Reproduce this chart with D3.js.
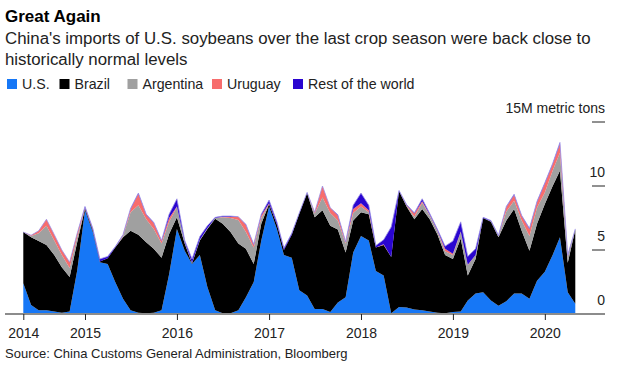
<!DOCTYPE html>
<html>
<head>
<meta charset="utf-8">
<script src="https://cdn.jsdelivr.net/npm/d3@7"></script>
<style>
  body { margin: 0; background: #fff; }
  svg { font-family: "Liberation Sans", Arial, sans-serif; }
</style>
</head>
<body>
<div id="chart-area"></div>
<script>
// monthly imports, million metric tons, May 2014 .. May 2020
var start = new Date(2014, 4, 1);
var us = [2.4,0.7,0.3,0.3,0.2,0.1,0.2,3.4,8.1,6.4,4.05,3.9,2.5,1.2,0.3,0.1,0.05,0.1,0.3,3.1,
  6.65,4.95,3.9,4.6,2.1,0.3,0.05,0.05,0.3,1.3,2.5,5.75,8.4,6.65,4.6,4.4,1.85,1.45,0.4,0.4,
  0.15,0.9,1.3,4.8,6.1,5.75,3.35,3.0,0.05,0.55,0.5,0.35,0.3,0.2,0.1,0.05,0.15,0.2,1.05,1.6,
  1.7,1.05,0.65,1.0,1.6,1.6,1.2,2.6,3.3,4.6,6.0,1.7,0.8];
var brazil = [4.0,5.3,5.4,5.1,4.4,3.55,2.7,2.2,0.15,0.15,0.05,0.45,2.7,4.8,6.2,6.1,5.55,5.0,4.1,3.15,
  0.9,0.55,0.05,1.15,4.55,7.15,7.0,6.35,5.2,3.8,1.4,1.3,0.2,0.35,0.4,1.8,6.0,8.0,7.15,7.7,
  6.75,5.7,3.5,2.5,1.85,2.05,1.85,2.4,4.4,9.05,7.9,7.05,7.9,7.2,6.1,4.55,4.15,5.7,1.95,2.7,
  5.8,6.15,5.35,6.3,6.6,4.9,3.75,4.45,5.3,5.4,5.2,2.3,5.8];
var argentina = [0,0.1,0.6,1.5,1.15,0.95,0.7,0.4,0,0,0,0,0,0.1,1.45,2.3,1.8,1.55,1.1,0.95,
  0.8,0.1,0.05,0.05,0.05,0.05,0.5,1.1,1.85,1.3,1.3,0.45,0,0,0,0,0,0,0.3,1.0,
  1.0,0.7,0.7,0.6,0.45,0.15,0,0,0,0,0.05,0.2,0.5,0.3,0.25,0.3,0.3,0.5,0.8,0.3,
  0,0.05,0.1,0.7,0.65,0.8,1.15,1.25,0.9,1.2,1.4,0.5,0];
var uruguay = [0,0.05,0.2,0.5,0.45,0.4,0.45,0.3,0.05,0.05,0,0,0,0.05,0.25,0.9,0.35,0.45,0.2,0.3,
  0.05,0,0,0,0,0,0.05,0.1,0.25,0.55,0.2,0.2,0.05,0,0,0,0,0,0.1,0.9,
  0.4,0.4,0.1,0.3,0.25,0.15,0,0.05,0,0,0.05,0.25,0.1,0.05,0.05,0.2,0.1,0.05,0.05,0,
  0,0,0,0.35,0.45,0.35,0.55,0.45,0.7,0.5,0.7,0.05,0];
var rest = [0,0,0,0,0,0,0,0,0.1,0.1,0.2,0.15,0.05,0.05,0.05,0.05,0.05,0.05,0.05,0.3,
  0.6,0.15,0.3,0.25,0.2,0.05,0.05,0.05,0,0.05,0.05,0.1,0.25,0.2,0.15,0.1,0.05,0.05,0,0,
  0,0.05,0.05,0.3,0.8,0.4,0.15,0.35,2.35,0.05,0.05,0.05,0.2,0.1,0.1,0.2,1.0,0.75,0.65,0.5,
  0.05,0.05,0.05,0.05,0.05,0.05,0.05,0.05,0.05,0.05,0.1,0.05,0.05];

var keys = ["U.S.", "Brazil", "Argentina", "Uruguay", "Rest of the world"];
var colors = ["#1677f6", "#000000", "#a0a0a0", "#f76d6d", "#2a05d0"];
var yTicks = [0, 5, 10, 15];
var xTickYears = [2014, 2015, 2016, 2017, 2018, 2019, 2020];

var data = us.map((d, i) => ({
    date: d3.timeMonth.offset(start, i),
    "U.S.": d, "Brazil": brazil[i], "Argentina": argentina[i],
    "Uruguay": uruguay[i], "Rest of the world": rest[i]
}));

var width = 633, height = 373;
var svg = d3.select("#chart-area").append("svg")
    .attr("width", width)
    .attr("height", height);

var x = d3.scaleTime()
    .domain([start, data[data.length - 1].date])
    .range([23.3, 575.3]);

var y = d3.scaleLinear()
    .domain([0, 15])
    .range([314, 122]);

var series = d3.stack().keys(keys)(data);

var area = d3.area()
    .x((d) => x(d.data.date))
    .y0((d) => y(d[0]))
    .y1((d) => y(d[1]));

svg.selectAll("path.layer").data(series)
    .enter().append("path")
        .attr("class", "layer")
        .attr("d", area)
        .attr("fill", (d, i) => colors[i]);

// thin light edge along the top of the stack
svg.append("path")
    .datum(series[series.length - 1])
    .attr("d", d3.line().x((d) => x(d.data.date)).y((d) => y(d[1])))
    .attr("fill", "none")
    .attr("stroke", "#9b8fe6")
    .attr("stroke-width", 0.8);

// y axis: short marks on the right
yTicks.forEach((t) => {
    if (t > 0) {
        svg.append("line")
            .attr("x1", 592).attr("x2", 605)
            .attr("y1", y(t)).attr("y2", y(t))
            .attr("stroke", "#222").attr("stroke-width", 1);
    }
    svg.append("text")
        .attr("x", 605).attr("y", y(t) - 9)
        .attr("text-anchor", "end")
        .attr("font-size", 14)
        .attr("fill", "#222")
        .text(t == 15 ? "15M metric tons" : t);
});

// x axis
svg.append("line")
    .attr("x1", 5).attr("x2", 605)
    .attr("y1", 314).attr("y2", 314)
    .attr("stroke", "#8c8c8c").attr("stroke-width", 2);

var tickDates = xTickYears.map((yr) => yr == 2014 ? start : new Date(yr, 0, 1));
var xAxis = d3.axisBottom(x)
    .tickValues(tickDates)
    .tickFormat(d3.timeFormat("%Y"))
    .tickSize(6)
    .tickSizeOuter(0);

var gx = svg.append("g")
    .attr("transform", "translate(0,314)")
    .call(xAxis);
gx.select(".domain").remove();
gx.selectAll(".tick line").attr("stroke", "#222");
gx.selectAll(".tick text")
    .attr("font-size", 14)
    .attr("font-family", "Liberation Sans, Arial, sans-serif")
    .attr("fill", "#222")
    .attr("dy", "1.05em");

// titles
svg.append("text")
    .attr("x", 5).attr("y", 22)
    .attr("font-size", 17).attr("font-weight", "bold")
    .attr("fill", "#000")
    .text("Great Again");

svg.append("text")
    .attr("x", 5).attr("y", 44)
    .attr("font-size", 16.85).attr("fill", "#222")
    .text("China's imports of U.S. soybeans over the last crop season were back close to");
svg.append("text")
    .attr("x", 5).attr("y", 65)
    .attr("font-size", 16.85).attr("fill", "#222")
    .text("historically normal levels");

// legend
var legendX = [7, 59.5, 127.5, 212, 293];
keys.forEach((k, i) => {
    svg.append("rect")
        .attr("x", legendX[i]).attr("y", 79)
        .attr("width", 10).attr("height", 10)
        .attr("fill", colors[i]);
    svg.append("text")
        .attr("x", legendX[i] + 15).attr("y", 89)
        .attr("font-size", 14.2).attr("fill", "#222")
        .text(k);
});

svg.append("text")
    .attr("x", 5).attr("y", 358)
    .attr("font-size", 13).attr("fill", "#222")
    .text("Source: China Customs General Administration, Bloomberg");
</script>
</body>
</html>
